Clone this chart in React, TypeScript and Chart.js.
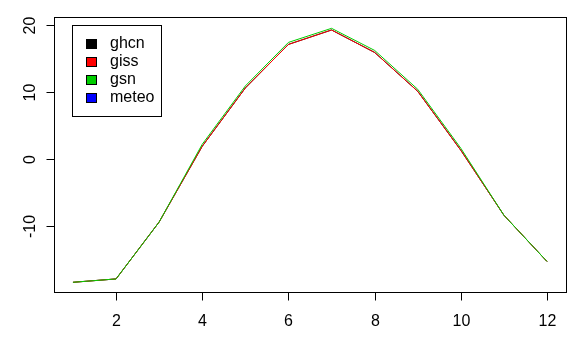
import React, { useEffect, useRef } from "react";
import { Chart, registerables } from "chart.js";

Chart.register(...registerables);

const months = [1, 2, 3, 4, 5, 6, 7, 8, 9, 10, 11, 12];
const ghcn: (number | null)[] = [-18.4, -17.9, -9.4, 1.9, 10.6, 17.1, 19.25, 15.9, 10.1, 1.3, -8.4, -15.3];
const giss: (number | null)[] = [-18.4, -17.9, -9.4, 1.9, 10.6, 17.1, 19.25, 15.9, 10.1, 1.3, -8.4, -15.3];
const gsn: (number | null)[] = [-18.4, -17.9, -9.4, 2.2, 10.9, 17.4, 19.5, 16.2, 10.4, 1.6, -8.4, -15.3];
const meteo: (number | null)[] = [null, null, null, null, null, null, null, null, null, null, null, null];

const seriesNames = ["ghcn", "giss", "gsn", "meteo"];
const seriesColors = ["#000000", "#FF0000", "#00CD00", "#0000FF"];
const xTicks = [2, 4, 6, 8, 10, 12];
const yTicks = [-10, 0, 10, 20];

const FONT = '16px "Liberation Sans", Arial, sans-serif';

const rAxesPlugin = {
  id: "rAxes",
  afterDraw(chart: any) {
    const ctx = chart.ctx as CanvasRenderingContext2D;
    const { left, right, top, bottom } = chart.chartArea;
    const xs = chart.scales.x;
    const ys = chart.scales.y;
    ctx.save();
    ctx.strokeStyle = "#000";
    ctx.lineWidth = 1;
    // box
    ctx.strokeRect(Math.round(left) + 0.5, Math.round(top) + 0.5, Math.round(right - left), Math.round(bottom - top));
    ctx.fillStyle = "#000";
    ctx.font = FONT;
    // x ticks
    ctx.textAlign = "center";
    ctx.textBaseline = "middle";
    for (const t of xTicks) {
      const px = Math.round(xs.getPixelForValue(t)) + 0.5;
      ctx.beginPath();
      ctx.moveTo(px, Math.round(bottom) + 0.5);
      ctx.lineTo(px, Math.round(bottom) + 8.5);
      ctx.stroke();
      ctx.fillText(String(t), px, bottom + 30);
    }
    // y ticks
    for (const t of yTicks) {
      const py = Math.round(ys.getPixelForValue(t)) + 0.5;
      ctx.beginPath();
      ctx.moveTo(Math.round(left) + 0.5, py);
      ctx.lineTo(Math.round(left) - 7.5, py);
      ctx.stroke();
      ctx.save();
      ctx.translate(left - 23, py);
      ctx.rotate(-Math.PI / 2);
      ctx.textAlign = "center";
      ctx.textBaseline = "middle";
      ctx.fillText(String(t), 0, 0);
      ctx.restore();
    }
    // legend
    const lx = 72, ly = 25, lw = 89, lh = 91;
    ctx.fillStyle = "#fff";
    ctx.fillRect(lx, ly, lw, lh);
    ctx.strokeRect(lx + 0.5, ly + 0.5, lw, lh);
    ctx.textAlign = "left";
    ctx.textBaseline = "middle";
    seriesNames.forEach((name, i) => {
      const cy = 44 + i * 18;
      ctx.fillStyle = seriesColors[i];
      ctx.fillRect(86, cy - 5, 11, 10);
      ctx.strokeStyle = "#000";
      ctx.strokeRect(86.5, cy - 5 + 0.5, 10, 9);
      ctx.fillStyle = "#000";
      ctx.fillText(name, 110, cy);
    });
    ctx.restore();
  },
};

export default function App() {
  const ref = useRef<HTMLCanvasElement | null>(null);
  useEffect(() => {
    if (!ref.current) return;
    const mk = (data: (number | null)[], i: number, order: number) => ({
      label: seriesNames[i],
      data: months.map((m, k) => ({ x: m, y: data[k] })),
      borderColor: seriesColors[i],
      backgroundColor: seriesColors[i],
      borderWidth: 1,
      pointRadius: 0,
      tension: 0,
      spanGaps: false,
      order,
    });
    const chart = new Chart(ref.current, {
      type: "line",
      data: {
        datasets: [mk(ghcn, 0, 4), mk(giss, 1, 3), mk(gsn, 2, 1), mk(meteo, 3, 2)] as any,
      },
      options: {
        animation: false,
        responsive: false,
        maintainAspectRatio: false,
        layout: { padding: { left: 54, top: 17, right: 18, bottom: 53 } },
        plugins: { legend: { display: false }, tooltip: { enabled: false } },
        scales: {
          x: { type: "linear", min: 0.56, max: 12.44, display: false },
          y: { type: "linear", min: -19.85, max: 21.19, display: false },
        },
      },
      plugins: [rAxesPlugin],
    });
    return () => chart.destroy();
  }, []);
  return (
    <div style={{ position: "fixed", left: 0, top: 0, width: 584, height: 345, background: "#fff" }}>
      <canvas ref={ref} width={584} height={345} style={{ width: 584, height: 345, display: "block" }} />
    </div>
  );
}
